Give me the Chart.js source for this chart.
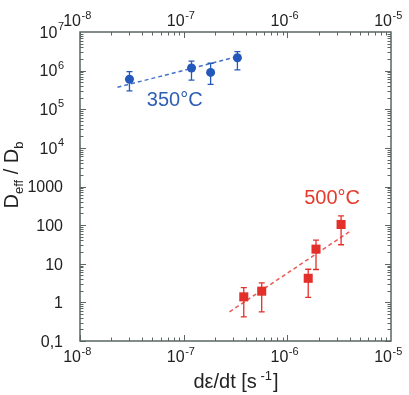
<!DOCTYPE html>
<html>
<head>
<meta charset="utf-8">
<script src="https://cdn.jsdelivr.net/npm/chart.js@4/dist/chart.umd.min.js"></script>
<style>
html,body{margin:0;padding:0;background:#fff;}
#wrap{width:409px;height:395px;position:relative;}
</style>
</head>
<body>
<div id="wrap"><canvas id="c" width="409" height="395"></canvas></div>
<script>
// ---- data ----
const blueX  = [3.0e-8, 1.19e-7, 1.82e-7, 3.3e-7];
const blueY  = [6.0e5, 1.17e6, 9.0e5, 2.16e6];
const blueHi = [9.4e5, 1.77e6, 1.55e6, 3.1e6];
const blueLo = [3.0e5, 5.7e5, 4.4e5, 1.04e6];
const blueFitX = [2.3e-8, 3.5e-7];
const blueFitY = [3.7e5, 2.4e6];

const redX  = [3.8e-7, 5.66e-7, 1.59e-6, 1.89e-6, 3.3e-6];
const redY  = [1.39, 1.95, 4.2, 23.9, 104];
const redHi = [2.4, 3.2, 7.2, 40.8, 174];
const redLo = [0.42, 0.57, 1.34, 7.1, 31];
const redFitX = [2.77e-7, 3.95e-6];
const redFitY = [0.57, 67];

const xTickValues = [1e-8, 1e-7, 1e-6, 1e-5];
const xTickBase = ['10', '10', '10', '10'];
const xTickExp  = ['-8', '-7', '-6', '-5'];
const yTickValues = [1e7, 1e6, 1e5, 1e4, 1000, 100, 10, 1, 0.1];
const yTickBase = ['10', '10', '10', '10', '1000', '100', '10', '1', '0,1'];
const yTickExp  = ['7', '6', '5', '4', '', '', '', '', ''];

const labels = [
  {text: '350°C', x: 8.2e-8, y: 1.7e5, color: '#2e5fb5'},
  {text: '500°C', x: 2.7e-6, y: 500, color: '#e53a2c'}
];

const BLUE = '#2459bb';
const RED = '#e4302a';
const BLUE_FIT = 'rgba(36,89,187,0.85)';
const RED_FIT = 'rgba(228,48,42,0.8)';
const FONT = '"Liberation Sans", Arial, Helvetica, sans-serif';

const toPts = (xs, ys) => xs.map((x, i) => ({x: x, y: ys[i]}));

const decorPlugin = {
  id: 'decor',
  beforeDatasetsDraw(chart) {
    const ctx = chart.ctx, xs = chart.scales.x, ys = chart.scales.y;
    const bars = [[blueX, blueLo, blueHi, BLUE], [redX, redLo, redHi, RED]];
    ctx.save();
    ctx.lineWidth = 1.3;
    bars.forEach(([X, L, H, col]) => {
      ctx.strokeStyle = col;
      X.forEach((x, i) => {
        const px = xs.getPixelForValue(x);
        const p1 = ys.getPixelForValue(L[i]);
        const p2 = ys.getPixelForValue(H[i]);
        ctx.beginPath();
        ctx.moveTo(px, p1); ctx.lineTo(px, p2);
        ctx.moveTo(px - 3, p1); ctx.lineTo(px + 3, p1);
        ctx.moveTo(px - 3, p2); ctx.lineTo(px + 3, p2);
        ctx.stroke();
      });
    });
    ctx.restore();
  },
  afterDraw(chart) {
    const ctx = chart.ctx, xs = chart.scales.x, ys = chart.scales.y;
    const a = chart.chartArea;
    ctx.save();
    // frame
    ctx.strokeStyle = '#5a665f';
    ctx.lineWidth = 1.5;
    ctx.strokeRect(a.left, a.top, a.right - a.left, a.bottom - a.top);
    // ticks
    ctx.lineWidth = 1;
    ctx.beginPath();
    for (let e = -8; e < -5; e++) {
      for (let m = 1; m <= 9; m++) {
        const v = m * Math.pow(10, e);
        const px = Math.round(xs.getPixelForValue(v)) + 0.5;
        const len = m === 1 ? 6 : 3.5;
        ctx.moveTo(px, a.bottom); ctx.lineTo(px, a.bottom - len);
        ctx.moveTo(px, a.top); ctx.lineTo(px, a.top + len);
      }
    }
    for (let e = -1; e < 7; e++) {
      for (let m = 1; m <= 9; m++) {
        const v = m * Math.pow(10, e);
        const py = Math.round(ys.getPixelForValue(v)) + 0.5;
        const len = m === 1 ? 6 : 3.5;
        ctx.moveTo(a.left, py); ctx.lineTo(a.left + len, py);
        ctx.moveTo(a.right, py); ctx.lineTo(a.right - len, py);
      }
    }
    ctx.stroke();

    // tick labels
    ctx.fillStyle = '#222';
    ctx.textBaseline = 'alphabetic';
    const big = '16px ' + FONT, small = '11px ' + FONT;
    xTickValues.forEach((v, i) => {
      const px = xs.getPixelForValue(v) + 1;
      [[362, 355], [26, 19]].forEach(([by, ey]) => {
        ctx.font = big; ctx.textAlign = 'right';
        ctx.fillText(xTickBase[i], px, by);
        ctx.font = small; ctx.textAlign = 'left';
        ctx.fillText(xTickExp[i], px + 0.5, ey);
      });
    });
    yTickValues.forEach((v, i) => {
      const py = ys.getPixelForValue(v);
      const right = 64;
      if (yTickExp[i]) {
        ctx.font = small;
        const ew = ctx.measureText(yTickExp[i]).width;
        ctx.textAlign = 'right';
        ctx.fillText(yTickExp[i], right, py - 2);
        ctx.font = big;
        ctx.fillText(yTickBase[i], right - ew - 0.5, py + 5.8);
      } else {
        ctx.font = big; ctx.textAlign = 'right';
        ctx.fillText(yTickBase[i], right - 1, py + 5.8);
      }
    });

    // in-plot labels
    ctx.font = '20px ' + FONT;
    ctx.textAlign = 'center';
    ctx.textBaseline = 'middle';
    labels.forEach(l => {
      ctx.fillStyle = l.color;
      ctx.fillText(l.text, xs.getPixelForValue(l.x), ys.getPixelForValue(l.y));
    });

    // x title: dε/dt [s^-1]
    ctx.fillStyle = '#222';
    ctx.textBaseline = 'alphabetic';
    ctx.textAlign = 'left';
    const t1 = 'dε/dt [s', t2 = ' -1', t3 = ']';
    const tf = '20px ' + FONT, sf = '13px ' + FONT;
    ctx.font = tf; const w1 = ctx.measureText(t1).width, w3 = ctx.measureText(t3).width;
    ctx.font = sf; const w2 = ctx.measureText(t2).width;
    let sx = (a.left + a.right) / 2 - (w1 + w2 + w3) / 2;
    const by = 388;
    ctx.font = tf; ctx.fillText(t1, sx, by);
    ctx.font = sf; ctx.fillText(t2, sx + w1, by - 8);
    ctx.font = tf; ctx.fillText(t3, sx + w1 + w2 + 1, by);

    // y title: D_eff / D_b rotated
    ctx.save();
    ctx.translate(18, 175);
    ctx.rotate(-Math.PI / 2);
    const parts = [['D', tf, 0], ['eff', sf, 5], [' / D', tf, 0], ['b', sf, 5]];
    let tw = 0;
    parts.forEach(p => { ctx.font = p[1]; tw += ctx.measureText(p[0]).width; });
    let cx = -tw / 2;
    parts.forEach(p => {
      ctx.font = p[1];
      ctx.fillText(p[0], cx, p[2]);
      cx += ctx.measureText(p[0]).width;
    });
    ctx.restore();

    ctx.restore();
  }
};

new Chart(document.getElementById('c'), {
  type: 'scatter',
  data: {
    datasets: [
      {data: toPts(blueFitX, blueFitY), showLine: true, borderColor: BLUE_FIT, borderWidth: 1.5,
       borderDash: [4, 3], pointRadius: 0, fill: false},
      {data: toPts(redFitX, redFitY), showLine: true, borderColor: RED_FIT, borderWidth: 1.5,
       borderDash: [4, 3], pointRadius: 0, fill: false},
      {data: toPts(blueX, blueY), pointStyle: 'circle', pointRadius: 4.5,
       backgroundColor: BLUE, borderColor: BLUE, borderWidth: 0},
      {data: toPts(redX, redY), pointStyle: 'rect', pointRadius: 6.4,
       backgroundColor: RED, borderColor: RED, borderWidth: 0}
    ]
  },
  options: {
    responsive: false,
    animation: false,
    events: [],
    layout: {padding: {left: 80, right: 18, top: 32, bottom: 54}},
    plugins: {legend: {display: false}, tooltip: {enabled: false}},
    scales: {
      x: {type: 'logarithmic', min: 1e-8, max: 1e-5, display: false},
      y: {type: 'logarithmic', min: 0.1, max: 1e7, display: false}
    }
  },
  plugins: [decorPlugin]
});
</script>
</body>
</html>
